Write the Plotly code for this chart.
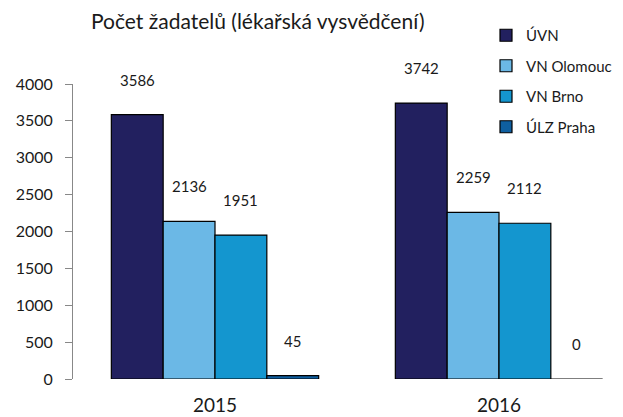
import plotly.graph_objects as go

categories = ["2015", "2016"]
series_names = ["ÚVN", "VN Olomouc", "VN Brno", "ÚLZ Praha"]
uvn = [3586, 3742]
vn_olomouc = [2136, 2259]
vn_brno = [1951, 2112]
ulz_praha = [45, 0]
colors = ["#22205F", "#6BB8E6", "#1496CF", "#0F5FA0"]
y_ticks = [0, 500, 1000, 1500, 2000, 2500, 3000, 3500, 4000]

series_values = [uvn, vn_olomouc, vn_brno, ulz_praha]
FONT = "Lato"
TXT = "#1a1a1a"

fig = go.Figure()
xs = list(range(len(categories)))
for name, vals, col in zip(series_names, series_values, colors):
    fig.add_trace(go.Bar(
        x=xs, y=vals, name=name, legendgroup=name,
        marker=dict(color=col, line=dict(color="#000000", width=1.2)),
    ))

bargap = 0.27
nser = len(series_names)
bw = (1 - bargap) / nser
annotations = []
for si, vals in enumerate(series_values):
    off = -(1 - bargap) / 2 + bw * (si + 0.5)
    for ci, v in enumerate(vals):
        annotations.append(dict(
            x=ci + off, y=v, xref="x", yref="y", text=str(v), showarrow=False,
            yshift=35, font=dict(family=FONT, size=15, color=TXT),
        ))

# page has an 8px body margin: figure is drawn from (8, 8)
OFF = 8
W, H = 623 - OFF, 417 - OFF
left, right_px, top, bottom = 73 - OFF, 610 - OFF, 84 - OFF, 379 - OFF
span = (right_px - left) / 284.0

fig.update_layout(
    width=W, height=H,
    margin=dict(l=left, r=W - right_px, t=top, b=H - bottom, autoexpand=False),
    plot_bgcolor="white", paper_bgcolor="white",
    barmode="group", bargap=bargap, bargroupgap=0,
    title=dict(text="Počet žadatelů (lékařská vysvědčení)", x=(91 - OFF) / W, xanchor="left",
               y=1 - (22 - OFF) / H, yanchor="middle",
               font=dict(family=FONT, size=21, color=TXT)),
    legend=dict(xref="container", yref="container",
                x=(486 - OFF) / W, xanchor="left",
                y=1 - (19 - OFF) / H, yanchor="top",
                bgcolor="rgba(0,0,0,0)", tracegroupgap=8,
                font=dict(family=FONT, size=15, color=TXT),
                itemwidth=30),
    annotations=annotations,
    showlegend=True,
)
fig.update_xaxes(
    tickmode="array", tickvals=xs, ticktext=categories,
    range=[-0.5, -0.5 + span], showline=False, showgrid=False, zeroline=False,
    ticks="", tickfont=dict(family=FONT, size=19, color=TXT),
    ticklabelstandoff=13, automargin=False,
)
fig.update_yaxes(
    range=[0, 4000], tickvals=y_ticks, showline=True, linecolor="#888888", linewidth=1,
    ticks="outside", ticklen=7, tickcolor="#888888", showgrid=False, zeroline=False,
    tickfont=dict(family=FONT, size=16, color=TXT), ticklabelstandoff=9,
    automargin=False,
)
fig.write_html("out.html")
